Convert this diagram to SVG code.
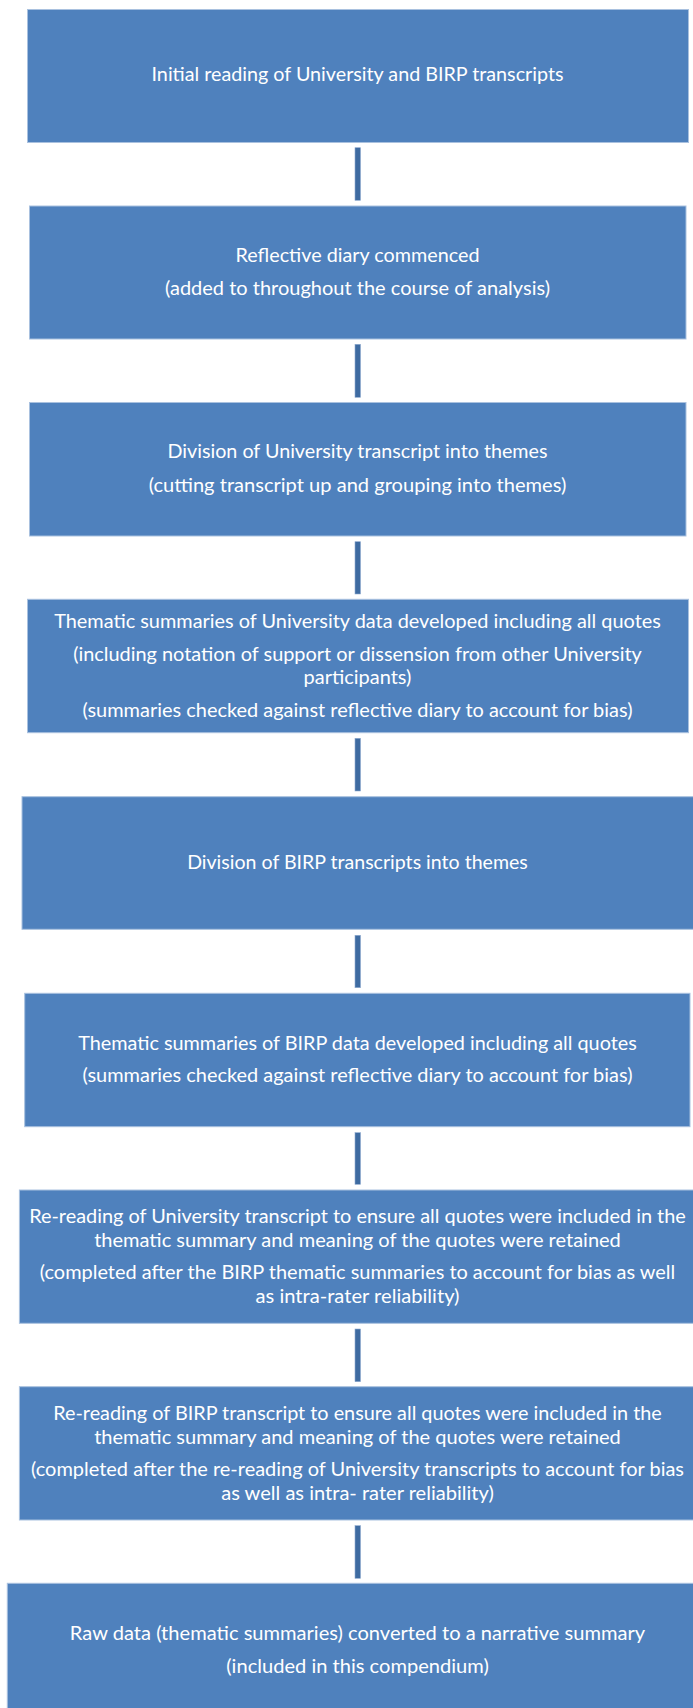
<svg xmlns="http://www.w3.org/2000/svg" width="693" height="1708" viewBox="0 0 693 1708">
<style>
.box{fill:#4F81BD;stroke:#A9C1DF;stroke-width:1}
.con{fill:#3E6BA1;stroke:#8FAACF;stroke-width:0.6}
text{font-family:Lato,"Open Sans","Liberation Sans",sans-serif;font-size:18.5px;fill:#FFFFFF;text-anchor:middle}
</style>
<rect width="693" height="1708" fill="#FFFFFF"/>
<g id="connectors">
<rect class="con" x="355" y="147.7" width="5.5" height="52.6"/>
<rect class="con" x="355" y="344.3" width="5.5" height="53"/>
<rect class="con" x="355" y="541.7" width="5.5" height="52.3"/>
<rect class="con" x="355" y="738.3" width="5.5" height="52.7"/>
<rect class="con" x="355" y="935.3" width="5.5" height="52.4"/>
<rect class="con" x="355" y="1132.7" width="5.5" height="51.6"/>
<rect class="con" x="355" y="1329" width="5.5" height="52.7"/>
<rect class="con" x="355" y="1525.7" width="5.5" height="52.6"/>
</g>
<g id="n1">
<rect class="box" x="27.5" y="9.5" width="661" height="133"/>
<text x="357.5" y="81" textLength="412" lengthAdjust="spacingAndGlyphs">Initial reading of University and BIRP transcripts</text>
</g>
<g id="n2">
<rect class="box" x="29.5" y="206" width="656.5" height="133"/>
<text x="357.5" y="261.7" textLength="244" lengthAdjust="spacingAndGlyphs">Reflective diary commenced</text>
<text x="357.5" y="295" textLength="385" lengthAdjust="spacingAndGlyphs">(added to throughout the course of analysis)</text>
</g>
<g id="n3">
<rect class="box" x="29.5" y="402.5" width="656.5" height="133.5"/>
<text x="357.5" y="458.3" textLength="380" lengthAdjust="spacingAndGlyphs">Division of University transcript into themes</text>
<text x="357.5" y="491.7" textLength="417.6" lengthAdjust="spacingAndGlyphs">(cutting transcript up and grouping into themes)</text>
</g>
<g id="n4">
<rect class="box" x="27.5" y="599.3" width="661" height="133.4"/>
<text x="357.5" y="627.7" textLength="606.7" lengthAdjust="spacingAndGlyphs">Thematic summaries of University data developed including all quotes</text>
<text x="357.5" y="661" textLength="568.7" lengthAdjust="spacingAndGlyphs">(including notation of support or dissension from other University</text>
<text x="357.5" y="684" textLength="107.8" lengthAdjust="spacingAndGlyphs">participants)</text>
<text x="357.5" y="717.3" textLength="550" lengthAdjust="spacingAndGlyphs">(summaries checked against reflective diary to account for bias)</text>
</g>
<g id="n5">
<rect class="box" x="22" y="796.7" width="672" height="132.6"/>
<text x="357.5" y="869" textLength="340.7" lengthAdjust="spacingAndGlyphs">Division of BIRP transcripts into themes</text>
</g>
<g id="n6">
<rect class="box" x="24.7" y="993.3" width="665.3" height="133.4"/>
<text x="357.5" y="1050" textLength="558.6" lengthAdjust="spacingAndGlyphs">Thematic summaries of BIRP data developed including all quotes</text>
<text x="357.5" y="1081.7" textLength="550" lengthAdjust="spacingAndGlyphs">(summaries checked against reflective diary to account for bias)</text>
</g>
<g id="n7">
<rect class="box" x="19.4" y="1190" width="674.6" height="133.3"/>
<text x="357.5" y="1222.7" textLength="656.7" lengthAdjust="spacingAndGlyphs">Re-reading of University transcript to ensure all quotes were included in the</text>
<text x="357.5" y="1246.7" textLength="526.7" lengthAdjust="spacingAndGlyphs">thematic summary and meaning of the quotes were retained</text>
<text x="357.5" y="1279" textLength="635.4" lengthAdjust="spacingAndGlyphs">(completed after the BIRP thematic summaries to account for bias as well</text>
<text x="357.5" y="1303" textLength="204" lengthAdjust="spacingAndGlyphs">as intra-rater reliability)</text>
</g>
<g id="n8">
<rect class="box" x="19.4" y="1386.7" width="674.6" height="133.3"/>
<text x="357.5" y="1420" textLength="608.5" lengthAdjust="spacingAndGlyphs">Re-reading of BIRP transcript to ensure all quotes were included in the</text>
<text x="357.5" y="1444" textLength="526.7" lengthAdjust="spacingAndGlyphs">thematic summary and meaning of the quotes were retained</text>
<text x="357.5" y="1476" textLength="653" lengthAdjust="spacingAndGlyphs">(completed after the re-reading of University transcripts to account for bias</text>
<text x="357.5" y="1500" textLength="272.6" lengthAdjust="spacingAndGlyphs">as well as intra- rater reliability)</text>
</g>
<g id="n9">
<rect class="box" x="7.3" y="1583.3" width="686.7" height="125.7"/>
<text x="357.5" y="1640" textLength="575.3" lengthAdjust="spacingAndGlyphs">Raw data (thematic summaries) converted to a narrative summary</text>
<text x="357.5" y="1673.3" textLength="262.5" lengthAdjust="spacingAndGlyphs">(included in this compendium)</text>
</g>
</svg>
